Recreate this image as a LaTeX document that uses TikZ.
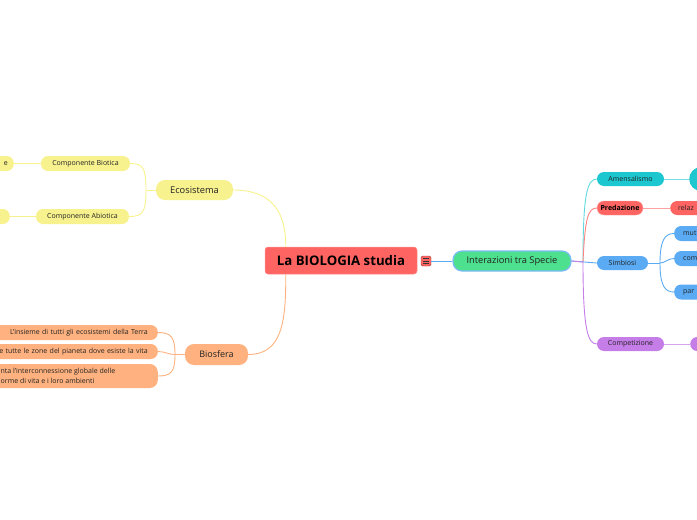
\documentclass[tikz,border=0pt]{standalone}
\usepackage{fontspec}
\setmainfont{Open Sans}
\usetikzlibrary{calc}
\definecolor{rootc}{HTML}{FE6461}
\definecolor{greenc}{HTML}{4DE08E}
\definecolor{bluec}{HTML}{5AABF3}
\definecolor{tealc}{HTML}{1CC7D0}
\definecolor{purplec}{HTML}{C57DE8}
\definecolor{yellowc}{HTML}{F8F28E}
\definecolor{orangec}{HTML}{FFB27F}
\definecolor{txtc}{HTML}{222222}
\tikzset{
  pill/.style={rounded corners=7pt, inner sep=0pt, minimum height=15pt, text=txtc, font=\fontsize{7}{8.5}\selectfont},
  bigpill/.style={rounded corners=9pt, inner sep=0pt, minimum height=20pt, text=txtc, font=\fontsize{9.3}{11}\selectfont},
  conn/.style={line width=0.9pt}
}
\begin{document}
\begin{tikzpicture}[x=1pt,y=-1pt]
\useasboundingbox (0,0) rectangle (697,520);
\clip (0,0) rectangle (697,520);

% central node
\node[fill=rootc, draw=rootc!70!white, line width=0.5pt, rounded corners=3pt, minimum width=152pt, minimum height=27pt, inner sep=0pt, font=\fontsize{13.2}{15}\bfseries\selectfont, text=black] (root) at (341,260.5) {La BIOLOGIA studia};
\node[fill=rootc, draw=rootc!60!black, line width=0.4pt, rounded corners=1.5pt, minimum width=10pt, minimum height=10pt, inner sep=0pt] (icon) at (426,261) {};
\foreach \dy in {-2.2,0,2.2} \draw[line width=0.7pt, black!80] ($(icon.center)+(-2.8,\dy)$) -- ++(5.6,0);

% right side
\node[bigpill, fill=greenc, draw=bluec!80!white, line width=1.2pt, minimum width=118pt] (inter) at (512,261) {Interazioni tra Specie};
\node[pill, fill=tealc, minimum width=67pt, minimum height=14pt] (amen) at (630.5,179) {Amensalismo};
\node[fill=tealc, rounded corners=12pt, minimum width=40pt, minimum height=24pt, inner sep=0pt, anchor=west] (amenR) at (689,179) {};
\node[pill, fill=rootc, draw=rootc!60!white, line width=0.4pt, minimum width=46pt, minimum height=14pt, font=\fontsize{7}{8.5}\bfseries\selectfont, text=black] (pred) at (620,208) {Predazione};
\node[pill, fill=rootc, minimum height=14pt, anchor=west, text width=30pt, align=left, inner xsep=8pt] (predR) at (670,208) {relaz};
\node[pill, fill=bluec, minimum width=51pt, minimum height=14pt] (simb) at (622.5,263) {Simbiosi};
\node[pill, fill=bluec, anchor=west, text width=30pt, align=left, inner xsep=9pt] (mut) at (674,233.5) {mut};
\node[pill, fill=bluec, anchor=west, text width=30pt, align=left, inner xsep=9pt] (com) at (674,258.5) {com};
\node[pill, fill=bluec, anchor=west, text width=30pt, align=left, inner xsep=9pt] (par) at (674,292) {par};
\node[pill, fill=purplec, minimum width=67pt, minimum height=14pt] (comp) at (630.5,344) {Competizione};
\node[pill, fill=purplec, anchor=west, minimum width=40pt, minimum height=14pt] (compR) at (690,344) {};

% left side
\node[bigpill, fill=yellowc, minimum width=77pt] (eco) at (194.5,190) {Ecosistema};
\node[pill, fill=yellowc, minimum width=89pt] (bio) at (85.5,163.5) {Componente Biotica};
\node[pill, fill=yellowc, minimum width=93pt] (abio) at (82.5,216.5) {Componente Abiotica};
\node[pill, fill=yellowc, anchor=east, text width=40pt, align=right, inner xsep=6pt] (bioL) at (14,163.5) {e};
\node[pill, fill=yellowc, anchor=east, minimum width=40pt] (abioL) at (10,216.5) {};
\node[bigpill, fill=orangec, minimum width=63pt, minimum height=21pt, font=\fontsize{9}{11}\selectfont] (biosf) at (216.5,354.5) {Biosfera};
\node[pill, fill=orangec, anchor=east, text width=160pt, align=right, inner xsep=10pt] (b1) at (158,332.5) {L'insieme di tutti gli ecosistemi della Terra};
\node[pill, fill=orangec, anchor=east, text width=160pt, align=right, inner xsep=10pt] (b2) at (158,351.5) {e tutte le zone del pianeta dove esiste la vita};
\node[pill, fill=orangec, anchor=east, rounded corners=8pt, minimum width=220pt, minimum height=24pt] (b3) at (158,376) {};
\node[anchor=west, align=left, inner sep=0pt, text=txtc, font=\fontsize{7}{9.5}\selectfont] (b3t) at (0.5,376) {nta l'interconnessione globale delle\\orme di vita e i loro ambienti};

% connectors left
\draw[conn, yellowc] (eco.east) .. controls (272,190) and (286,212) .. ($(root.north west)+(21,0)$);
\draw[conn, orangec] ($(root.south west)+(21,0)$) .. controls (286,322) and (282,354.5) .. (biosf.east);
\draw[conn, yellowc] (eco.west) -- (146,190) coordinate (ej);
\draw[conn, yellowc] (ej) .. controls (146,168) and (143,163.5) .. (bio.east);
\draw[conn, yellowc] (ej) .. controls (146,212) and (143,216.5) .. (abio.east);
\draw[conn, yellowc] (bio.west) -- (bioL.east);
\draw[conn, yellowc] (abio.west) -- (abioL.east);
\draw[conn, orangec] (biosf.west) -- (175,354.5) coordinate (bj);
\draw[conn, orangec] (bj) .. controls (175,337) and (171,332.5) .. (b1.east);
\draw[conn, orangec] (bj) .. controls (168,354.5) and (165,351.5) .. (b2.east);
\draw[conn, orangec] (bj) .. controls (175,372) and (171,376) .. (b3.east);

% connectors right
\draw[conn, bluec] (icon.east) -- (inter.west);
\coordinate (ij) at (583,262);
\draw[conn, tealc!70!white] (ij) .. controls (583,195) and (587,179) .. (amen.west);
\draw[conn, rootc!80!white] (ij) .. controls (585,218) and (588,208) .. (pred.west);
\draw[conn, bluec] (inter.east) -- (simb.west);
\draw[conn, purplec] (inter.east) -- (ij) .. controls (583,330) and (588,344) .. (comp.west);
\draw[conn, tealc!60!white] (amen.east) -- (amenR.west);
\draw[conn, rootc!60!white] (pred.east) -- (predR.west);
\draw[conn, purplec!70!white] (comp.east) -- (compR.west);
\draw[conn, bluec] (simb.east) -- (660,263) coordinate (sj);
\draw[conn, bluec] (sj) .. controls (660,240) and (665,233.5) .. (mut.west);
\draw[conn, bluec] (sj) .. controls (665,263) and (668,258.5) .. (com.west);
\draw[conn, bluec] (sj) .. controls (660,286) and (665,292) .. (par.west);
\end{tikzpicture}
\end{document}
